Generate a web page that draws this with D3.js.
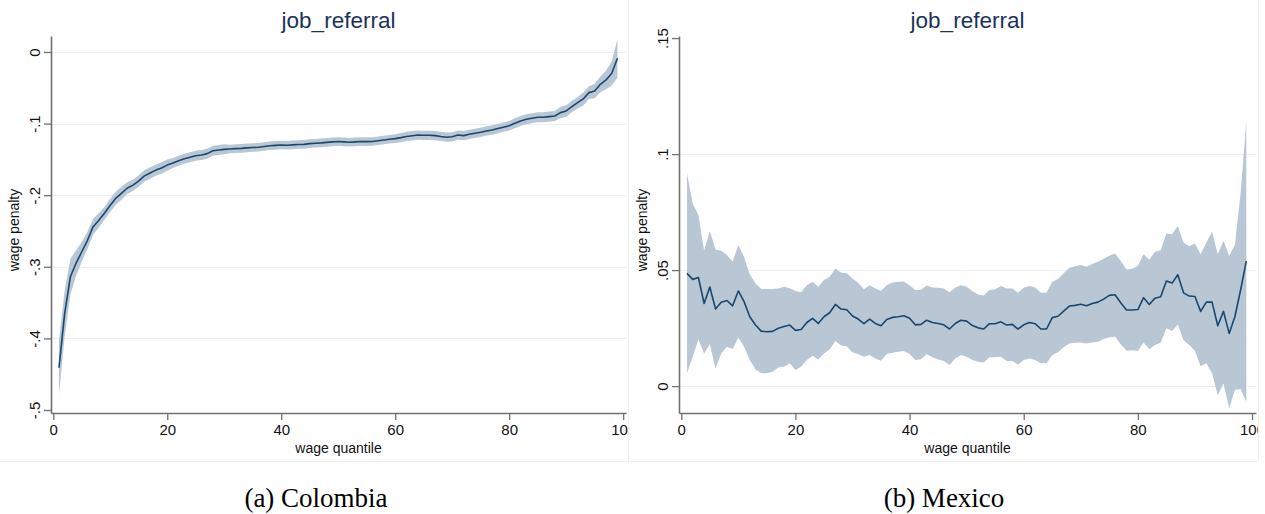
<!DOCTYPE html>
<html>
<head>
<meta charset="utf-8">
<script src="https://cdn.jsdelivr.net/npm/d3@7"></script>
<style>
  body { margin: 0; background: #fff; }
  svg { display: block; }
</style>
</head>
<body>
<svg id="chart" width="1265" height="514"></svg>
<script>
"use strict";

// wage quantiles 1..99
const quantiles = d3.range(1, 100);

// Colombia: point estimate and half width of the band
const colombiaPenalty = [
  -0.441, -0.365, -0.314, -0.295, -0.279, -0.263, -0.244, -0.235, -0.225, -0.214,
  -0.204, -0.197, -0.190, -0.186, -0.180, -0.173, -0.169, -0.165, -0.162, -0.158,
  -0.155, -0.152, -0.149, -0.147, -0.145, -0.144, -0.142, -0.138, -0.137, -0.136,
  -0.1355, -0.135, -0.1347, -0.134, -0.1335, -0.133, -0.132, -0.131, -0.1305, -0.130,
  -0.1302, -0.1298, -0.1293, -0.129, -0.128, -0.1275, -0.127, -0.1262, -0.1255, -0.125,
  -0.1255, -0.126, -0.1255, -0.125, -0.1252, -0.125, -0.124, -0.123, -0.122, -0.121,
  -0.1196, -0.118, -0.117, -0.116, -0.1164, -0.1164, -0.1168, -0.118, -0.119, -0.1185,
  -0.116, -0.1168, -0.115, -0.1136, -0.1122, -0.1103, -0.109, -0.107, -0.105, -0.103,
  -0.0996, -0.0964, -0.094, -0.0926, -0.0912, -0.0912, -0.0903, -0.0894, -0.0847, -0.0824,
  -0.0763, -0.0708, -0.0656, -0.0568, -0.0545, -0.0452, -0.0391, -0.0298, -0.0088
];
const colombiaHalfWidth = [
  0.038, 0.032, 0.025, 0.018, 0.014, 0.012, 0.011, 0.010, 0.009, 0.009,
  0.009, 0.009, 0.008, 0.008, 0.008, 0.008, 0.008, 0.008, 0.008, 0.008,
  0.007, 0.007, 0.007, 0.007, 0.007, 0.007, 0.007, 0.007, 0.007, 0.007,
  0.006, 0.006, 0.006, 0.006, 0.006, 0.006, 0.006, 0.006, 0.006, 0.006,
  0.006, 0.006, 0.006, 0.006, 0.006, 0.006, 0.006, 0.006, 0.006, 0.006,
  0.006, 0.006, 0.006, 0.006, 0.006, 0.006, 0.006, 0.006, 0.006, 0.006,
  0.0065, 0.0065, 0.0065, 0.0065, 0.0065, 0.0065, 0.0065, 0.0065, 0.0065, 0.0065,
  0.0065, 0.0065, 0.0065, 0.0065, 0.0065, 0.0065, 0.0065, 0.0065, 0.0065, 0.0065,
  0.007, 0.007, 0.007, 0.007, 0.007, 0.007, 0.007, 0.007, 0.008, 0.008,
  0.008, 0.008, 0.009, 0.009, 0.010, 0.011, 0.013, 0.017, 0.027
];

// Mexico: point estimate, upper and lower band
const mexicoPenalty = [
  0.0486, 0.046, 0.0468, 0.0356, 0.0427, 0.0332, 0.0361, 0.0369, 0.0346, 0.041,
  0.0364, 0.0299, 0.0263, 0.0237, 0.0234, 0.0236, 0.0249, 0.0257, 0.0263, 0.024,
  0.0244, 0.0274, 0.0292, 0.027, 0.0299, 0.0316, 0.0352, 0.0332, 0.0329, 0.0302,
  0.0289, 0.0269, 0.0289, 0.027, 0.026, 0.0287, 0.0296, 0.0299, 0.0303, 0.0292,
  0.0264, 0.0266, 0.0284, 0.0274, 0.027, 0.0264, 0.0246, 0.027, 0.0284, 0.028,
  0.0261, 0.0251, 0.0246, 0.0269, 0.0269, 0.0277, 0.0263, 0.0266, 0.0246, 0.0264,
  0.0274, 0.0269, 0.0246, 0.0246, 0.0295, 0.0301, 0.0323, 0.0345, 0.0348, 0.0353,
  0.0346, 0.0356, 0.0362, 0.0375, 0.0391, 0.0394, 0.0359, 0.0328, 0.0328, 0.033,
  0.0381, 0.0352, 0.0379, 0.0385, 0.0453, 0.0444, 0.048, 0.0402, 0.0388, 0.0386,
  0.0322, 0.0362, 0.0362, 0.026, 0.0322, 0.0227, 0.0299, 0.0414, 0.0539
];
const mexicoUpper = [
  0.0917, 0.0787, 0.0737, 0.0583, 0.0668, 0.0589, 0.0583, 0.0565, 0.0536, 0.0608,
  0.0557, 0.0481, 0.0443, 0.0418, 0.0418, 0.0418, 0.0421, 0.0428, 0.0422, 0.041,
  0.0405, 0.0435, 0.045, 0.0428, 0.0457, 0.0471, 0.0507, 0.0489, 0.0486, 0.0464,
  0.0445, 0.0417, 0.0435, 0.0421, 0.0411, 0.0435, 0.0447, 0.045, 0.0451, 0.0435,
  0.0414, 0.0414, 0.0434, 0.0425, 0.0424, 0.0421, 0.0404, 0.0425, 0.0435, 0.0428,
  0.041, 0.0395, 0.039, 0.0414, 0.0417, 0.0431, 0.0421, 0.0421, 0.0402, 0.0424,
  0.0431, 0.0425, 0.0402, 0.0402, 0.045, 0.0462, 0.0486, 0.051, 0.0517, 0.0522,
  0.0514, 0.0526, 0.0536, 0.0549, 0.0562, 0.0572, 0.0539, 0.0503, 0.0506, 0.0519,
  0.0568, 0.0546, 0.0579, 0.0586, 0.0658, 0.0654, 0.0691, 0.0619, 0.0603, 0.0615,
  0.0568, 0.0618, 0.0665, 0.0568, 0.0626, 0.0562, 0.0608, 0.083, 0.1139
];
const mexicoLower = [
  0.0055, 0.0126, 0.0201, 0.0141, 0.018, 0.0076, 0.0141, 0.017, 0.016, 0.0208,
  0.017, 0.0112, 0.0073, 0.0055, 0.0055, 0.0062, 0.008, 0.0083, 0.0098, 0.0069,
  0.0083, 0.0112, 0.0131, 0.0115, 0.0141, 0.0158, 0.0194, 0.0175, 0.0172, 0.0145,
  0.0138, 0.0126, 0.0134, 0.0119, 0.0109, 0.0138, 0.0144, 0.0148, 0.0151, 0.0138,
  0.0112, 0.0116, 0.0137, 0.0124, 0.0115, 0.0108, 0.0091, 0.0119, 0.0134, 0.0126,
  0.0112, 0.0105, 0.0102, 0.0124, 0.0124, 0.0126, 0.0108, 0.0108, 0.0093, 0.0112,
  0.0119, 0.0112, 0.0098, 0.0098, 0.0134, 0.0146, 0.0167, 0.0184, 0.0187, 0.0188,
  0.0184, 0.0188, 0.0191, 0.0203, 0.021, 0.0213, 0.018, 0.0152, 0.0155, 0.0151,
  0.0188, 0.0159, 0.0177, 0.0187, 0.0249, 0.0237, 0.0266, 0.0198, 0.0177, 0.0152,
  0.0086, 0.0098, 0.0055, -0.0039, 0.0011, -0.0096, -0.0017, -0.0013, -0.0068
];

const xTicks = [0, 20, 40, 60, 80, 100];
const colombiaYTicks = [0, -0.1, -0.2, -0.3, -0.4, -0.5];
const colombiaYLabels = ["0", "-.1", "-.2", "-.3", "-.4", "-.5"];
const mexicoYTicks = [0, 0.05, 0.1, 0.15];
const mexicoYLabels = ["0", ".05", ".1", ".15"];

const lineColor = "#1a476f";
const bandColor = "#b9c7d4";
const gridColor = "#e8f0f2";
const axisColor = "#707070";
const font = "'Liberation Sans', Arial, sans-serif";

const svg = d3.select("#chart");
const defs = svg.append("defs");

function drawPanel(p) {
  defs.append("clipPath").attr("id", p.id + "-clip")
    .append("rect")
    .attr("x", p.clip[0]).attr("y", 0)
    .attr("width", p.clip[1] - p.clip[0]).attr("height", 470);

  const g = svg.append("g").attr("clip-path", `url(#${p.id}-clip)`);

  const x = d3.scaleLinear().domain(p.xDomain).range(p.xRange);
  const y = d3.scaleLinear().domain(p.yDomain).range([413, 36]);

  // grid lines (none at the plot edge)
  g.append("g")
    .selectAll("line")
    .data(p.yTicks.filter((t) => t !== p.noGrid))
    .enter()
    .append("line")
    .attr("x1", p.xRange[0] + 1)
    .attr("x2", p.xRange[1])
    .attr("y1", (d) => Math.round(y(d)) + 0.5)
    .attr("y2", (d) => Math.round(y(d)) + 0.5)
    .attr("stroke", gridColor)
    .attr("stroke-width", 1.2);

  const rows = quantiles.map((q, i) => ({
    q: q,
    v: p.value[i],
    lo: p.lower[i],
    hi: p.upper[i],
  }));

  const area = d3.area()
    .x((d) => x(d.q))
    .y0((d) => y(d.lo))
    .y1((d) => y(d.hi));

  const line = d3.line()
    .x((d) => x(d.q))
    .y((d) => y(d.v));

  g.append("path").datum(rows).attr("d", area).attr("fill", bandColor);
  g.append("path").datum(rows).attr("d", line)
    .attr("fill", "none")
    .attr("stroke", lineColor)
    .attr("stroke-width", 1.6)
    .attr("stroke-linejoin", "round");

  // axes
  const yAxis = g.append("g")
    .attr("transform", `translate(${p.xRange[0]},0)`)
    .call(d3.axisLeft(y).tickValues(p.yTicks)
      .tickFormat((d, i) => p.yLabels[i]).tickSize(7).tickSizeOuter(0));

  const xAxis = g.append("g")
    .attr("transform", "translate(0,413)")
    .call(d3.axisBottom(x).tickValues(xTicks).tickSize(7).tickSizeOuter(0));

  [yAxis, xAxis].forEach((a) => {
    a.select(".domain").attr("stroke", axisColor).attr("stroke-width", 1.6);
    a.selectAll(".tick line").attr("stroke", axisColor).attr("stroke-width", 1.3);
    a.selectAll(".tick text")
      .attr("fill", "#111")
      .style("font-family", font)
      .style("font-size", "15px");
  });

  yAxis.selectAll(".tick text")
    .attr("x", null)
    .attr("dy", null)
    .attr("text-anchor", "middle")
    .attr("transform", "translate(-11,0) rotate(-90)");

  xAxis.selectAll(".tick text").attr("y", 11).attr("dy", "0.71em");

  const cx = (p.xRange[0] + p.xRange[1]) / 2;

  g.append("text")
    .attr("x", cx)
    .attr("y", 28)
    .attr("text-anchor", "middle")
    .attr("fill", "#1b3358")
    .style("font-family", font)
    .style("font-size", "22.5px")
    .text("job_referral");

  g.append("text")
    .attr("x", cx)
    .attr("y", 453)
    .attr("text-anchor", "middle")
    .attr("fill", "#111")
    .style("font-family", font)
    .style("font-size", "14px")
    .text("wage quantile");

  g.append("text")
    .attr("transform", `translate(${p.xRange[0] - 32},230) rotate(-90)`)
    .attr("text-anchor", "middle")
    .attr("fill", "#111")
    .style("font-family", font)
    .style("font-size", "14px")
    .text("wage penalty");

  // faint border of the sub-figure image
  svg.append("line")
    .attr("x1", p.clip[1] + 0.5).attr("x2", p.clip[1] + 0.5)
    .attr("y1", 0).attr("y2", 461)
    .attr("stroke", "#eeeeee");

  svg.append("text")
    .attr("x", p.captionX)
    .attr("y", 507)
    .attr("text-anchor", "middle")
    .attr("fill", "#000")
    .style("font-family", "'Liberation Serif', 'Times New Roman', serif")
    .style("font-size", "27px")
    .text(p.caption);
}

drawPanel({
  id: "colombia",
  clip: [0, 628],
  xDomain: [-0.4, 100.5],
  xRange: [51, 626],
  yDomain: [-0.5042, 0.0223],
  yTicks: colombiaYTicks,
  yLabels: colombiaYLabels,
  noGrid: -0.5,
  value: colombiaPenalty,
  lower: colombiaPenalty.map((v, i) => v - colombiaHalfWidth[i]),
  upper: colombiaPenalty.map((v, i) => v + colombiaHalfWidth[i]),
  caption: "(a) Colombia",
  captionX: 316,
});

drawPanel({
  id: "mexico",
  clip: [629, 1258],
  xDomain: [-0.4, 100.7],
  xRange: [679, 1256],
  yDomain: [-0.0116, 0.1509],
  yTicks: mexicoYTicks,
  yLabels: mexicoYLabels,
  noGrid: 0.15,
  value: mexicoPenalty,
  lower: mexicoLower,
  upper: mexicoUpper,
  caption: "(b) Mexico",
  captionX: 944,
});

svg.append("line")
  .attr("x1", 0).attr("x2", 1258)
  .attr("y1", 461.5).attr("y2", 461.5)
  .attr("stroke", "#f0f0f0");
</script>
</body>
</html>
